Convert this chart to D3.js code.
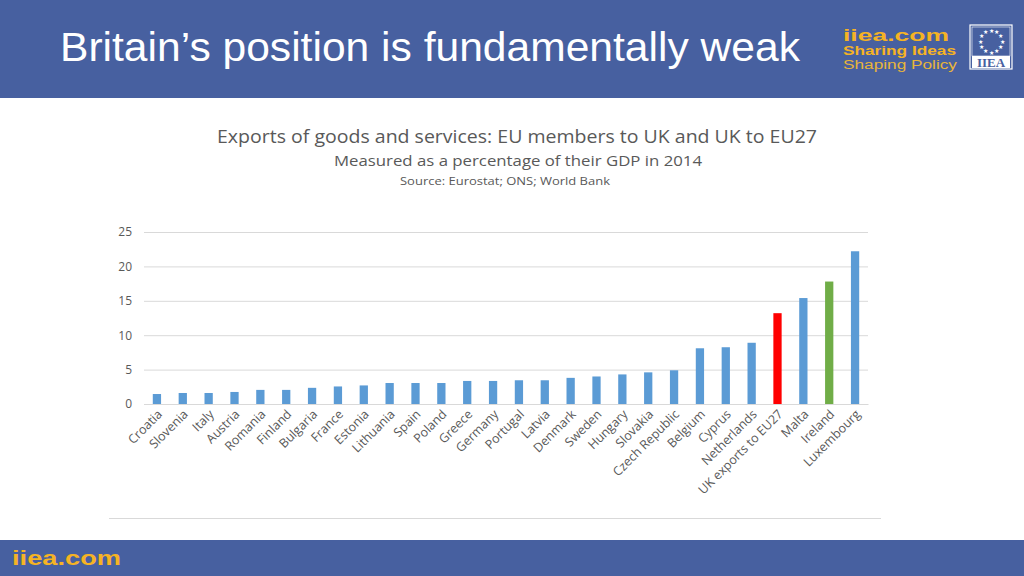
<!DOCTYPE html>
<html><head><meta charset="utf-8">
<script src="https://cdn.jsdelivr.net/npm/d3@7"></script>
<style>body{margin:0;background:#fff}svg{display:block}</style>
</head><body>
<svg id="c" width="1024" height="576"></svg>
<script>
const categories = ["Croatia","Slovenia","Italy","Austria","Romania","Finland","Bulgaria","France","Estonia","Lithuania","Spain","Poland","Greece","Germany","Portugal","Latvia","Denmark","Sweden","Hungary","Slovakia","Czech Republic","Belgium","Cyprus","Netherlands","UK exports to EU27","Malta","Ireland","Luxembourg"];
const values = [1.45,1.6,1.6,1.75,2.05,2.05,2.35,2.55,2.7,3.05,3.05,3.05,3.35,3.35,3.45,3.45,3.8,4.0,4.3,4.6,4.9,8.1,8.25,8.9,13.2,15.4,17.8,22.2];
const highlight = {"UK exports to EU27":"#ff0000","Ireland":"#70ad47"};
const yTicks = [0,5,10,15,20,25];

const svg = d3.select("#c");
const blue = "#4760a0";
const sans = "Liberation Sans, Arial, sans-serif";
// header
svg.append("rect").attr("x",0).attr("y",0).attr("width",1024).attr("height",98).attr("fill",blue);
svg.append("text").attr("x",60).attr("y",61).attr("fill","#fff")
  .style("font-family",sans).style("font-size","41px").attr("textLength",740).attr("lengthAdjust","spacingAndGlyphs")
  .text("Britain’s position is fundamentally weak");
// logo text
const lg = svg.append("g").style("font-family",sans);
lg.append("text").attr("x",843).attr("y",41).attr("fill","#f5b324").style("font-size","16px").style("font-weight","bold")
  .attr("textLength",106).attr("lengthAdjust","spacingAndGlyphs").text("iiea.com");
lg.append("text").attr("x",843).attr("y",55).attr("fill","#f5b324").style("font-size","12px").style("font-weight","bold")
  .attr("textLength",113).attr("lengthAdjust","spacingAndGlyphs").text("Sharing Ideas");
lg.append("text").attr("x",843).attr("y",68.5).attr("fill","#e7b53a").style("font-size","12px")
  .attr("textLength",114).attr("lengthAdjust","spacingAndGlyphs").text("Shaping Policy");
// IIEA emblem
lg.append("rect").attr("x",970).attr("y",25).attr("width",42).attr("height",44).attr("fill","none").attr("stroke","#fff").attr("stroke-width",1.2);
lg.append("rect").attr("x",972).attr("y",27).attr("width",38).attr("height",29).attr("fill",blue).attr("stroke","#fff").attr("stroke-width",0.6);
for(let i=0;i<12;i++){const a=i*Math.PI/6;
  lg.append("text").attr("x",991+11*Math.sin(a)).attr("y",41.5-11*Math.cos(a)+2).attr("text-anchor","middle").attr("fill","#fff").style("font-size","6px").text("★");}
lg.append("rect").attr("x",972).attr("y",56).attr("width",38).attr("height",12).attr("fill","#fff");
lg.append("text").attr("x",991).attr("y",67).attr("text-anchor","middle").attr("fill",blue).style("font-family","Liberation Serif, serif").style("font-size","13px").style("font-weight","bold").text("IIEA");

// footer
svg.append("rect").attr("x",0).attr("y",540).attr("width",1024).attr("height",36).attr("fill",blue);
svg.append("text").attr("x",12).attr("y",565).attr("fill","#f5b324")
  .style("font-family",sans).style("font-size","21px").style("font-weight","bold")
  .attr("textLength",109).attr("lengthAdjust","spacingAndGlyphs").text("iiea.com");

// chart titles
const tf = "Open Sans, Carlito, Calibri, sans-serif";
svg.append("text").attr("x",517).attr("y",143).attr("text-anchor","middle").attr("fill","#595959")
  .style("font-family",tf).style("font-size","18px").attr("textLength",600).attr("lengthAdjust","spacingAndGlyphs")
  .text("Exports of goods and services: EU members to UK and UK to EU27");
svg.append("text").attr("x",518).attr("y",166).attr("text-anchor","middle").attr("fill","#595959")
  .style("font-family",tf).style("font-size","15px").attr("textLength",368).attr("lengthAdjust","spacingAndGlyphs")
  .text("Measured as a percentage of their GDP in 2014");
svg.append("text").attr("x",505).attr("y",185).attr("text-anchor","middle").attr("fill","#595959")
  .style("font-family",tf).style("font-size","11px").attr("textLength",210).attr("lengthAdjust","spacingAndGlyphs")
  .text("Source: Eurostat; ONS; World Bank");

// bottom frame line
svg.append("line").attr("x1",109).attr("x2",881).attr("y1",518.5).attr("y2",518.5).attr("stroke","#d9d9d9");

const x = d3.scaleBand().domain(categories).range([144,868]).paddingInner(0.68).paddingOuter(0.34);
const y = d3.scaleLinear().domain([0,25]).range([404,232]);

const yAxis = d3.axisLeft(y).tickValues(yTicks).tickSize(-(868-144)).tickPadding(12);
const ga = svg.append("g").attr("transform","translate(144,0)").call(yAxis);
ga.select(".domain").remove();
ga.selectAll(".tick line").attr("stroke","#d9d9d9");
ga.selectAll(".tick text").attr("fill","#595959").style("font-family",tf).style("font-size","12px");

svg.append("g").selectAll("rect").data(categories).join("rect")
  .attr("x",d=>x(d)).attr("width",x.bandwidth())
  .attr("y",(d,i)=>y(values[i])).attr("height",(d,i)=>y(0)-y(values[i]))
  .attr("fill",d=>highlight[d]||"#5b9bd5");

const xAxis = d3.axisBottom(x).tickSize(0).tickPadding(0);
const gx = svg.append("g").attr("transform","translate(0,404)").call(xAxis);
gx.select(".domain").attr("stroke","#d9d9d9");
gx.selectAll(".tick text").attr("fill","#595959").style("font-family",tf).style("font-size","12.5px")
  .attr("text-anchor","end").attr("dy",0).attr("transform","translate(6,11) rotate(-45)");
</script>
</body></html>
